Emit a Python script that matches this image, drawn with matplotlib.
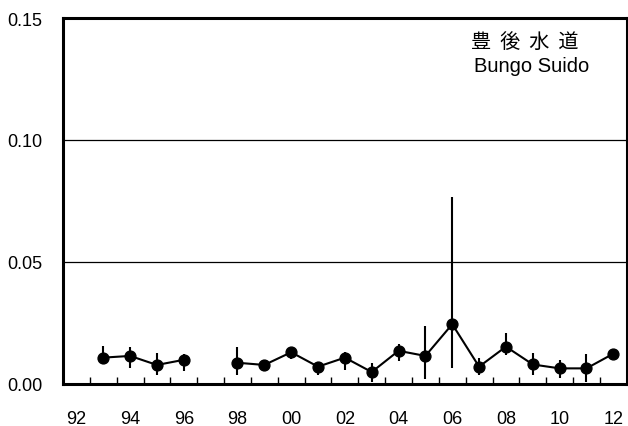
import numpy as np
import matplotlib
matplotlib.use("Agg")
import matplotlib.pyplot as plt
from matplotlib.ticker import FixedLocator, FormatStrFormatter

plt.rcParams['font.family'] = ['Liberation Sans', 'DejaVu Sans']

# ------------------------------ Data ------------------------------
years = np.arange(1992, 2013)
# annual mean, lower / upper limit (nan = no survey)
mean = [np.nan, 0.0108, 0.0115, 0.0078, 0.0099, np.nan, 0.0087, 0.0078, 0.0130,
        0.0071, 0.0108, 0.0049, 0.0136, 0.0115, 0.0245, 0.0071, 0.0153, 0.0080,
        0.0064, 0.0064, 0.0124]
lower = [np.nan, 0.0081, 0.0067, 0.0038, 0.0052, np.nan, 0.0038, 0.0052, 0.0104,
         0.0036, 0.0057, 0.0009, 0.0094, 0.0020, 0.0065, 0.0037, 0.0119, 0.0036,
         0.0023, 0.0008, 0.0124]
upper = [np.nan, 0.0157, 0.0150, 0.0128, 0.0121, np.nan, 0.0150, 0.0098, 0.0149,
         0.0091, 0.0130, 0.0085, 0.0162, 0.0237, 0.0765, 0.0105, 0.0207, 0.0128,
         0.0098, 0.0121, 0.0124]
year_labels = ['92', '94', '96', '98', '00', '02', '04', '06', '08', '10', '12']

mean = np.array(mean)
lower = np.array(lower)
upper = np.array(upper)
x = np.arange(len(years))

# ------------------------------ Plot ------------------------------
fig = plt.figure(figsize=(6.28, 4.27), dpi=100)
ax = fig.add_axes([0.1003, 0.0984, 0.8977, 0.8571])

for y in (0.05, 0.10):
    ax.axhline(y, color='black', lw=0.9, zorder=1)

ax.vlines(x, lower, upper, color='black', lw=1.5, zorder=2)
ax.plot(x, mean, color='black', lw=1.5, marker='o', ms=7.8, zorder=3)

ax.set_xlim(-0.5, len(years) - 0.5)
ax.set_ylim(0, 0.15)

ax.xaxis.set_major_locator(FixedLocator(x[::2]))
ax.set_xticklabels(year_labels)
ax.xaxis.set_minor_locator(FixedLocator(x[:-1] + 0.5))
ax.tick_params(axis='x', which='major', length=0, pad=19, labelsize=13)
ax.tick_params(axis='x', which='minor', direction='in', length=5, width=1)
ax.set_yticks([0, 0.05, 0.10, 0.15])
ax.yaxis.set_major_formatter(FormatStrFormatter('%.2f'))
ax.tick_params(axis='y', length=0, pad=15, labelsize=13)

for s in ax.spines.values():
    s.set_linewidth(2.2)

ax.text(0.819, 0.937, '豊  後  水  道', transform=ax.transAxes, ha='center', va='center',
        fontsize=14.5, family=['Noto Sans CJK JP', 'DejaVu Sans'])
ax.text(0.8316, 0.856, 'Bungo Suido', transform=ax.transAxes, ha='center', va='baseline',
        fontsize=14.5)

plt.savefig('out.png', dpi=100)
